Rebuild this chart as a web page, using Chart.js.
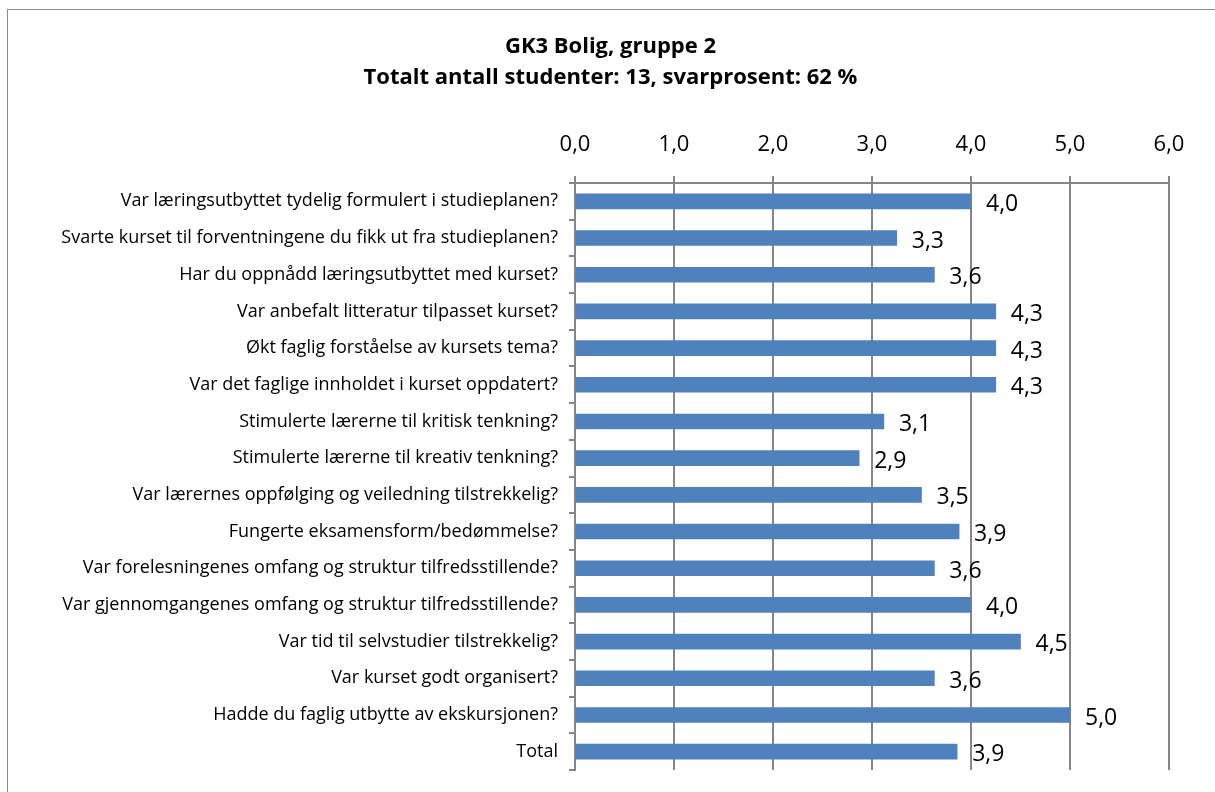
<!DOCTYPE html>
<html>
<head>
<meta charset="utf-8">
<script src="https://cdn.jsdelivr.net/npm/chart.js@4"></script>
<style>
  html,body{margin:0;padding:0;background:#fff;}
  #ramme{position:absolute;left:7px;top:9px;width:1220px;height:800px;border:1px solid #8c8c8c;}
  #wrap{position:absolute;left:0;top:0;width:1215px;height:792px;}
</style>
</head>
<body>
<div id="ramme"></div>
<div id="wrap"><canvas id="graf"></canvas></div>
<script>
// Data
const sporsmal = [
  "Var læringsutbyttet tydelig formulert i studieplanen?",
  "Svarte kurset til forventningene du fikk ut fra studieplanen?",
  "Har du oppnådd læringsutbyttet med kurset?",
  "Var anbefalt litteratur tilpasset kurset?",
  "Økt faglig forståelse av kursets tema?",
  "Var det faglige innholdet i kurset oppdatert?",
  "Stimulerte lærerne til kritisk tenkning?",
  "Stimulerte lærerne til kreativ tenkning?",
  "Var lærernes oppfølging og veiledning tilstrekkelig?",
  "Fungerte eksamensform/bedømmelse?",
  "Var forelesningenes omfang og struktur tilfredsstillende?",
  "Var gjennomgangenes omfang og struktur tilfredsstillende?",
  "Var tid til selvstudier tilstrekkelig?",
  "Var kurset godt organisert?",
  "Hadde du faglig utbytte av ekskursjonen?",
  "Total"
];
const snitt = [4.0, 3.25, 3.63, 4.25, 4.25, 4.25, 3.12, 2.87, 3.5, 3.88, 3.63, 4.0, 4.5, 3.63, 5.0, 3.86];
const xTicks = [0, 1, 2, 3, 4, 5, 6];
const tittel = ["GK3 Bolig, gruppe 2", "Totalt antall studenter: 13, svarprosent: 62 %"];

const FONT = "'Open Sans', 'Liberation Sans', sans-serif";
const fmt = v => v.toFixed(1).replace(".", ",");

// tittel midt på hele rammen
const overskrift = {
  id: "overskrift",
  afterDraw(chart){
    const ctx = chart.ctx;
    ctx.save();
    ctx.font = "bold 22px " + FONT;
    ctx.fillStyle = "#000";
    ctx.textAlign = "center";
    ctx.textBaseline = "middle";
    tittel.forEach((t, i)=> ctx.fillText(t, chart.width / 2 + 3, 47 + i * 31));
    ctx.restore();
  }
};

// verdietiketter til høyre for søylene
const etiketter = {
  id: "etiketter",
  afterDatasetsDraw(chart){
    const ctx = chart.ctx;
    const meta = chart.getDatasetMeta(0);
    ctx.save();
    ctx.font = "23px " + FONT;
    ctx.fillStyle = "#000";
    ctx.textAlign = "left";
    ctx.textBaseline = "middle";
    meta.data.forEach((bar, i)=>{
      ctx.fillText(fmt(snitt[i]), bar.x + 15, bar.y + 3);
    });
    ctx.restore();
  }
};

new Chart(document.getElementById("graf"), {
  type: "bar",
  data: {
    labels: sporsmal,
    datasets: [{ data: snitt, backgroundColor: "#4f81bd", borderWidth: 0, barThickness: 15 }]
  },
  options: {
    indexAxis: "y",
    responsive: true,
    maintainAspectRatio: false,
    animation: false,
    layout: { padding: { left: 15, right: 46, top: 94, bottom: 22 } },
    plugins: {
      legend: { display: false },
      tooltip: { enabled: false },
      title: { display: false }
    },
    scales: {
      x: {
        position: "top", min: 0, max: 6,
        afterBuildTicks: s => { s.ticks = xTicks.map(v => ({ value: v })); },
        afterFit: s => { s.height = 89; },
        ticks: { color: "#000", font: { family: FONT, size: 22 }, padding: 18, callback: v => fmt(v) },
        grid: { color: "#868686", lineWidth: 2, tickLength: 7 },
        border: { display: true, color: "#868686", width: 2 }
      },
      y: {
        afterFit: s => { s.width = 560; },
        ticks: { color: "#000", font: { family: FONT, size: 18 }, padding: 11, autoSkip: false },
        grid: { display: true, drawOnChartArea: false, offset: true, color: "#868686", lineWidth: 2, tickLength: 6 },
        border: { display: true, color: "#868686", width: 2 }
      }
    }
  },
  plugins: [etiketter, overskrift]
});
</script>
</body>
</html>
